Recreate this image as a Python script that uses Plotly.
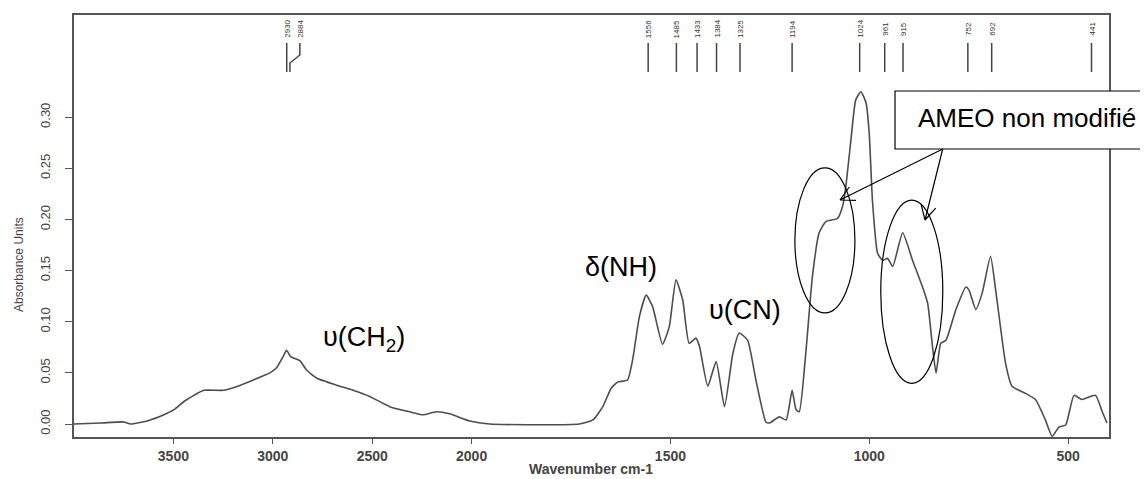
import numpy as np
import plotly.graph_objects as go

# FTIR spectrum (wavenumber in cm-1, absorbance units)
WAVENUMBER = [
    4000, 3866, 3749, 3715, 3632, 3548, 3497, 3447, 3397, 3347, 3246, 3162,
    3062, 3015, 2981, 2948, 2931, 2911, 2889, 2864, 2831, 2780, 2680, 2596,
    2513, 2412, 2312, 2245, 2177, 2111, 2010, 1955, 1729, 1695, 1670, 1649,
    1633, 1608, 1595, 1578, 1561, 1545, 1520, 1503, 1486, 1469, 1453, 1436,
    1427, 1406, 1385, 1364, 1343, 1327, 1306, 1285, 1260, 1251, 1226, 1209,
    1194, 1184, 1176, 1159, 1143, 1126, 1109, 1080, 1067, 1059, 1046, 1034,
    1021, 1008, 1000, 992, 979, 966, 954, 941, 916, 891, 866, 853, 841, 832,
    820, 807, 782, 757, 749, 732, 716, 695, 682, 657, 641, 607, 582, 557,
    540, 523, 506, 485, 465, 431, 414, 402,
]
ABSORBANCE = [
    0.000, 0.001, 0.002, 0.000, 0.003, 0.009, 0.014, 0.022, 0.028, 0.033, 0.033, 0.038,
    0.046, 0.050, 0.055, 0.066, 0.072, 0.066, 0.064, 0.062, 0.053, 0.045, 0.038, 0.033,
    0.027, 0.017, 0.012, 0.009, 0.012, 0.010, 0.003, 0.000, 0.000, 0.004, 0.017, 0.035,
    0.041, 0.043, 0.063, 0.105, 0.126, 0.115, 0.078, 0.095, 0.141, 0.121, 0.079, 0.084,
    0.076, 0.037, 0.061, 0.017, 0.069, 0.089, 0.082, 0.043, 0.002, 0.001, 0.007, 0.004,
    0.033, 0.014, 0.012, 0.072, 0.144, 0.187, 0.198, 0.201, 0.213, 0.232, 0.278, 0.317,
    0.325, 0.314, 0.284, 0.219, 0.167, 0.160, 0.162, 0.154, 0.187, 0.160, 0.134, 0.118, 0.076, 0.050,
    0.079, 0.082, 0.112, 0.134, 0.131, 0.112, 0.128, 0.164, 0.131, 0.059, 0.037, 0.030, 0.024, 0.004,
    -0.012, -0.003, -0.001, 0.028, 0.024, 0.028, 0.012, 0.001,
]

# peak picks shown at the top of the frame
PEAK_WN = [2930, 2914, 1556, 1485, 1433, 1384, 1325, 1194, 1024, 961, 915, 752, 692, 441]
PEAK_TEXT = ["2930", "2884", "1556", "1485", "1433", "1384", "1325", "1194",
             "1024", "961", "915", "752", "692", "441"]

X_TICKS = [3500, 3000, 2500, 2000, 1500, 1000, 500]
Y_TICKS = [0.00, 0.05, 0.10, 0.15, 0.20, 0.25, 0.30]

LINE = "#4d4d4d"
FRAME = "#555555"

# the page body keeps an 8px margin, so the figure is sized to the visible area
FIG_W, FIG_H = 1140, 471
M_L, M_R, M_T, M_B = 66, 39, 7, 42
PW, PH = FIG_W - M_L - M_R, FIG_H - M_T - M_B


def axis_x(w):
    # OPUS style scale: region above 2000 cm-1 compressed by a factor 2
    w = np.asarray(w, dtype=float)
    return np.where(w > 2000, 2000 + (w - 2000) / 2, w)


def to_paper(px, py):
    # screen pixel (page coords) -> paper coords of the plot area
    return (px - 8 - M_L) / PW, (FIG_H - M_B + 8 - py) / PH


fig = go.Figure(go.Scatter(
    x=axis_x(WAVENUMBER), y=ABSORBANCE,
    mode="lines",
    line=dict(color=LINE, width=1.6, shape="spline", smoothing=0.5),
    hoverinfo="skip",
))

fig.update_layout(
    width=FIG_W, height=FIG_H,
    margin=dict(l=M_L, r=M_R, t=M_T, b=M_B),
    plot_bgcolor="white", paper_bgcolor="white",
    showlegend=False,
    font=dict(family="Arial, Liberation Sans, sans-serif", color="#333333"),
)
fig.update_xaxes(
    range=[3000, 397], tickvals=axis_x(X_TICKS), ticktext=[str(t) for t in X_TICKS],
    ticks="outside", ticklen=5, tickcolor=FRAME,
    tickfont=dict(size=14, weight="bold", color="#444"),
    showline=True, mirror=True, linecolor=FRAME, linewidth=1.5,
    showgrid=False, zeroline=False, automargin=False,
)
fig.update_yaxes(
    range=[-0.0127, 0.400], tickvals=Y_TICKS, tickformat=".2f",
    ticks="outside", ticklen=7, tickcolor=FRAME, tickangle=-90,
    ticklabelstandoff=10,
    tickfont=dict(size=13, color="#444"),
    showline=True, mirror=True, linecolor=FRAME, linewidth=1.5,
    showgrid=False, zeroline=False, automargin=False,
)

shapes = []
annotations = []

# peak marker lines and labels
_, y_lo = to_paper(0, 72)
_, y_hi = to_paper(0, 43)
_, y_b1 = to_paper(0, 63)
_, y_b2 = to_paper(0, 55)
_, y_lab = to_paper(0, 29)
for wn, txt in zip(PEAK_WN, PEAK_TEXT):
    if txt == "2884":
        xb = float(axis_x(wn))
        xt = xb - 25
        shapes.append(dict(
            type="path", xref="x", yref="paper",
            path=f"M {xb},{y_lo} L {xb},{y_b1} L {xt},{y_b2} L {xt},{y_hi}",
            line=dict(color="#444", width=1.5),
        ))
        xl = xt
    else:
        xl = float(axis_x(wn))
        shapes.append(dict(type="line", xref="x", yref="paper", x0=xl, x1=xl,
                           y0=y_lo, y1=y_hi, line=dict(color="#444", width=1.5)))
    annotations.append(dict(x=xl, y=y_lab, xref="x", yref="paper", text=txt,
                            textangle=-90, showarrow=False,
                            xanchor="center", yanchor="middle",
                            font=dict(size=8, color="#333")))

# ellipses around the unmodified AMEO bands
shapes.append(dict(type="circle", xref="x", yref="y",
                   x0=float(axis_x(1187)), x1=float(axis_x(1036)), y0=0.1086, y1=0.2505,
                   line=dict(color="black", width=1.2)))
shapes.append(dict(type="circle", xref="x", yref="y",
                   x0=float(axis_x(971)), x1=float(axis_x(815)), y0=0.0398, y1=0.219,
                   line=dict(color="black", width=1.2)))

# callout box
bx0, by0 = to_paper(895, 149)
bx1, by1 = to_paper(1146, 91)
shapes.append(dict(type="rect", xref="paper", yref="paper",
                   x0=bx0, x1=bx1, y0=by0, y1=by1,
                   fillcolor="white", line=dict(color="black", width=1.2), layer="above"))
tx, ty = to_paper(1027, 118)
annotations.append(dict(x=tx, y=ty, xref="paper", yref="paper",
                        text="AMEO non modifié", showarrow=False,
                        xanchor="center", yanchor="middle",
                        font=dict(size=26, color="black")))


def arrow(tail, tip, head=16, spread=np.radians(28)):
    # straight arrow with an open "V" head, drawn as paper-space lines
    dx, dy = tail[0] - tip[0], tail[1] - tip[1]
    n = np.hypot(dx, dy)
    dx, dy = dx / n, dy / n
    x0, y0 = to_paper(*tail)
    x1, y1 = to_paper(*tip)
    parts = [f"M {x0},{y0} L {x1},{y1}"]
    for s in (spread, -spread):
        ax = tip[0] + head * (np.cos(s) * dx - np.sin(s) * dy)
        ay = tip[1] + head * (np.sin(s) * dx + np.cos(s) * dy)
        hx, hy = to_paper(ax, ay)
        parts.append(f"M {x1},{y1} L {hx},{hy}")
    return dict(type="path", xref="paper", yref="paper", path=" ".join(parts),
                line=dict(color="black", width=1.2))


shapes.append(arrow((942.7, 149), (840, 200)))
shapes.append(arrow((942.7, 149), (925, 220)))

# band assignments
big = dict(size=27, color="black")
annotations.append(dict(x=float(axis_x(2540)), y=0.083, xref="x", yref="y",
                        text="υ(CH<sub>2</sub>)", showarrow=False, font=big))
annotations.append(dict(x=float(axis_x(1625)), y=0.1536, xref="x", yref="y",
                        text="δ(NH)", showarrow=False, font=big))
annotations.append(dict(x=float(axis_x(1313)), y=0.1115, xref="x", yref="y",
                        text="υ(CN)", showarrow=False, font=big))

# axis titles (the y title sits below the middle of the frame, as in the original)
ax_, ay_ = to_paper(19, 265)
annotations.append(dict(x=ax_, y=ay_, xref="paper", yref="paper",
                        text="Absorbance Units", textangle=-90, showarrow=False,
                        xanchor="center", yanchor="middle",
                        font=dict(size=12, color="#444")))
tx, ty = to_paper(591, 469)
annotations.append(dict(x=tx, y=ty, xref="paper", yref="paper",
                        text="<b>Wavenumber cm-1</b>", showarrow=False,
                        xanchor="center", yanchor="middle",
                        font=dict(size=14, color="#444")))

fig.update_layout(shapes=shapes, annotations=annotations)
fig.write_html("out.html")
